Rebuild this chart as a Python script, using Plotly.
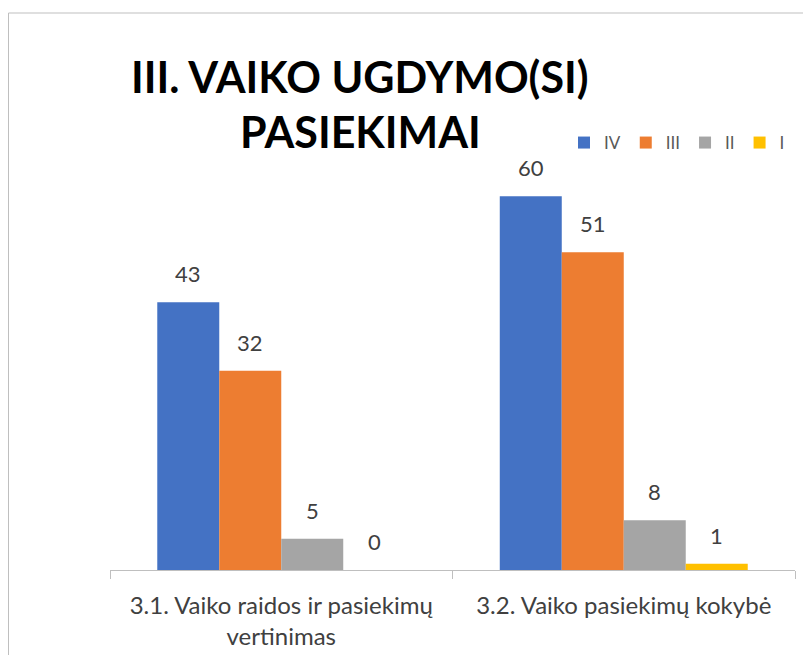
import plotly.graph_objects as go

categories = ["3.1. Vaiko raidos ir pasiekimų<br>vertinimas", "3.2. Vaiko pasiekimų kokybė"]
series_names = ["IV", "III", "II", "I"]
values_IV = [43, 60]
values_III = [32, 51]
values_II = [5, 8]
values_I = [0, 1]
series_values = [values_IV, values_III, values_II, values_I]
colors = ["#4472C4", "#ED7D31", "#A5A5A5", "#FFC000"]

# page body has an 8px margin, so the figure is drawn 8px right/down of the window origin
W, H = 803, 647
ML, MR, MT, MB = 102, 16, 126, 85
BARGAP = 0.276
YMAX = 70

fig = go.Figure()
for name, vals, col in zip(series_names, series_values, colors):
    fig.add_trace(go.Bar(x=categories, y=vals, name=name, marker=dict(color=col, line=dict(width=0))))

ann = []
bw = (1 - BARGAP) / len(series_names)
for j, vals in enumerate(series_values):
    for i, v in enumerate(vals):
        ann.append(dict(x=i + (j - 1.5) * bw, y=v, xref="x", yref="y", text=str(v), showarrow=False,
                        yanchor="bottom", yshift=13, font=dict(family="Lato", size=22, color="#404040")))

pw = W - ML - MR
ph = H - MT - MB
def px_x(p):
    return (p - ML) / pw
def px_y(p):
    return (H - MB - p) / ph

title_font = dict(family="Lato", size=43, color="#000000")
ann.append(dict(x=px_x(352), y=px_y(96), xref="paper", yref="paper", text="<b>III. VAIKO UGDYMO(SI)</b>",
                showarrow=False, xanchor="center", yanchor="bottom", font=title_font))
ann.append(dict(x=px_x(352), y=px_y(151), xref="paper", yref="paper", text="<b>PASIEKIMAI</b>",
                showarrow=False, xanchor="center", yanchor="bottom", font=title_font))

fig.update_layout(
    width=W, height=H,
    margin=dict(l=ML, r=MR, t=MT, b=MB, pad=0, autoexpand=False),
    paper_bgcolor="white", plot_bgcolor="white",
    barmode="group", bargap=BARGAP, bargroupgap=0,
    annotations=ann,
    showlegend=True,
    legend=dict(orientation="h", x=px_x(556), y=px_y(135), xanchor="left", yanchor="middle",
                font=dict(family="Lato", size=17, color="#595959"), traceorder="normal",
                itemsizing="constant", bgcolor="rgba(0,0,0,0)"),
    xaxis=dict(type="category", showline=True, linecolor="#BFBFBF", linewidth=1,
               ticks="outside", tickson="boundaries", ticklen=8, tickcolor="#BFBFBF",
               ticklabelstandoff=14,
               tickfont=dict(family="Lato", size=24, color="#404040"), showgrid=False, zeroline=False),
    yaxis=dict(range=[0, YMAX], visible=False, showgrid=False, zeroline=False),
    shapes=[dict(type="rect", xref="paper", yref="paper", x0=px_x(0.5), x1=px_x(830), y0=px_y(5), y1=px_y(700),
                 line=dict(color="#BFBFBF", width=1), fillcolor="rgba(0,0,0,0)", layer="below")],
)

fig.write_html("out.html")
